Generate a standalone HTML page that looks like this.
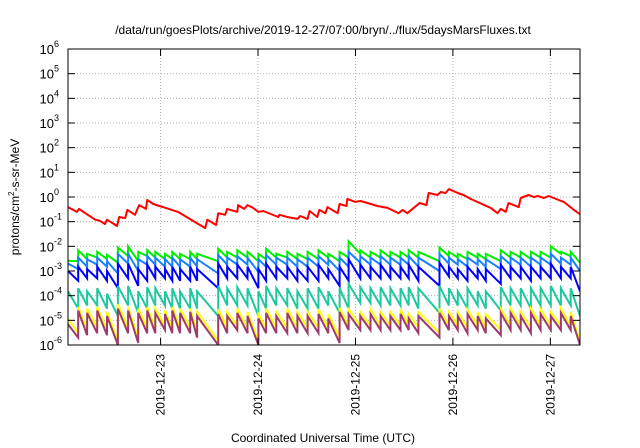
<!DOCTYPE html>
<html><head><meta charset="utf-8"><style>
html,body{margin:0;padding:0;background:#fff;}
svg{display:block;font-family:"Liberation Sans",sans-serif;}
</style></head><body>
<svg id="chart" width="640" height="448" viewBox="0 0 640 448">
<text x="323" y="34" font-size="12" text-anchor="middle">/data/run/goesPlots/archive/2019-12-27/07:00/bryn/../flux/5daysMarsFluxes.txt</text>
<defs><clipPath id="pc"><rect x="68" y="49" width="512" height="296"/></clipPath></defs>
<g id="grid"></g>
<g id="series" clip-path="url(#pc)"></g>
<rect x="68" y="49" width="512" height="296" fill="none" stroke="#000" stroke-width="1"/>
<g id="axes"></g>
<text transform="translate(19,197) rotate(-90)" font-size="12" text-anchor="middle">protons/cm<tspan font-size="8" dy="-5">2</tspan><tspan dy="5">-s-sr-MeV</tspan></text>
<text x="323" y="442" font-size="12" text-anchor="middle">Coordinated Universal Time (UTC)</text>
</svg>
<script>
// time in hours since 2019-12-22 00:00 UTC
const redT=[1.2,3.4,3.9,7.9,9.1,10.3,10.8,13.3,13.8,15.3,15.8,17.7,18.7,20.4,20.7,22.2,23.7,24.6,28.3,35.0,35.5,37.7,38.2,39.9,40.4,42.9,43.1,44.6,45.4,46.8,48.1,49.3,53.0,53.3,55.2,57.7,58.4,60.2,60.7,62.6,63.1,64.6,65.1,67.6,68.1,69.8,70.0,72.0,73.2,75.0,77.4,79.9,82.6,83.6,84.8,87.8,89.5,90.0,92.2,93.0,94.2,95.0,97.2,98.6,100.4,105.3,107.0,107.8,109.0,109.7,112.2,112.7,114.7,115.9,116.9,118.4,119.6,120.8,123.3,125.8,127.3];
const redV=[0.39,0.25,0.33,0.12,0.107,0.08,0.12,0.067,0.155,0.14,0.30,0.19,0.47,0.33,0.76,0.52,0.43,0.39,0.25,0.055,0.12,0.073,0.22,0.19,0.33,0.25,0.47,0.33,0.47,0.36,0.25,0.27,0.155,0.19,0.155,0.13,0.17,0.13,0.27,0.155,0.30,0.22,0.39,0.22,0.52,0.43,0.83,0.63,0.69,0.57,0.43,0.36,0.22,0.30,0.22,0.57,0.47,1.45,1.2,1.6,1.45,2.1,1.45,1.2,0.83,0.36,0.22,0.33,0.25,0.57,0.39,0.91,1.2,1.0,1.1,0.91,1.1,0.91,0.63,0.30,0.20];
const toothT=[1.2,3.7,5.9,8.4,10.8,13.5,16.0,18.5,20.7,22.7,25.1,26.9,28.8,31.3,33.0,38.2,40.4,42.9,45.4,48.1,50.0,52.5,55.2,57.7,60.2,62.9,65.3,68.1,70.3,73.2,75.7,78.2,80.6,83.1,85.1,87.5,92.7,95.0,97.2,99.6,102.1,104.1,107.8,110.2,112.7,115.2,117.6,120.1,122.6,125.0];
const endT=127.3;
const greenPeak=[2.6e-3,7e-3,5e-3,6e-3,4.5e-3,9e-3,1e-2,6e-3,7e-3,6e-3,5e-3,6e-3,5e-3,6e-3,5e-3,8e-3,6e-3,7e-3,6e-3,5e-3,8e-3,5e-3,6e-3,5e-3,6e-3,7e-3,5e-3,6e-3,1.6e-2,7e-3,6e-3,7e-3,6e-3,6e-3,7e-3,6e-3,9e-3,6e-3,5e-3,6e-3,5e-3,5e-3,7e-3,6e-3,6e-3,6e-3,6e-3,1e-2,6e-3,6e-3];
const greenTrough=[2.5e-3,3e-3,3.5e-3,3e-3,2.2e-3,4e-3,2.5e-3,4e-3,3.5e-3,3e-3,3e-3,3e-3,3e-3,3e-3,2.5e-3,3.5e-3,3.5e-3,3.5e-3,2.5e-3,3e-3,3.5e-3,3.5e-3,3e-3,3e-3,3e-3,3.5e-3,2.5e-3,3.5e-3,5e-3,3.5e-3,3.5e-3,3.5e-3,3.5e-3,3.5e-3,3.5e-3,2.5e-3,4e-3,3.5e-3,3e-3,3.5e-3,3e-3,2.5e-3,3.5e-3,3.5e-3,3e-3,3.5e-3,3.5e-3,5e-3,4e-3,2.2e-3];
const lblPeak=[2e-3,3.5e-3,3e-3,3.5e-3,2.5e-3,5e-3,5e-3,3e-3,4e-3,3.5e-3,3e-3,3.5e-3,3e-3,3.5e-3,3e-3,4.5e-3,3.5e-3,4e-3,3.5e-3,3e-3,4.5e-3,3.5e-3,3.5e-3,3e-3,3.5e-3,4e-3,3e-3,3.5e-3,6e-3,4e-3,3.5e-3,4e-3,3.5e-3,3.5e-3,4e-3,3.5e-3,5e-3,3.5e-3,3e-3,3.5e-3,3e-3,3e-3,4e-3,3.5e-3,3.5e-3,3.5e-3,3.5e-3,5e-3,3.5e-3,3.5e-3];
const lblTrough=[1.2e-3,1.5e-3,1.8e-3,1.5e-3,8e-4,2e-3,1e-3,1.8e-3,1.8e-3,1.5e-3,1.5e-3,1.5e-3,1.5e-3,1.5e-3,8e-4,1.8e-3,1.8e-3,1.8e-3,9e-4,1.5e-3,1.8e-3,1.8e-3,1.5e-3,1.5e-3,1.5e-3,1.8e-3,1e-3,1.5e-3,2.2e-3,1.8e-3,1.8e-3,1.8e-3,1.8e-3,1.8e-3,1.5e-3,1e-3,2e-3,1.8e-3,1.5e-3,1.8e-3,1.5e-3,1.2e-3,1.8e-3,1.8e-3,1.5e-3,1.8e-3,1.8e-3,2e-3,1.8e-3,1e-3];
const bluePeak=[1e-3,1.5e-3,1.2e-3,1.5e-3,1e-3,2e-3,2e-3,1.2e-3,1.8e-3,1.5e-3,1.2e-3,1.5e-3,1.2e-3,1.5e-3,1.2e-3,2e-3,1.5e-3,1.8e-3,1.5e-3,1.2e-3,2e-3,1.5e-3,1.5e-3,1.2e-3,1.5e-3,1.8e-3,1.2e-3,1.5e-3,3e-3,1.8e-3,1.5e-3,1.8e-3,1.5e-3,1.5e-3,1.8e-3,1.5e-3,2.2e-3,1.5e-3,1.2e-3,1.5e-3,1.2e-3,1.2e-3,1.8e-3,1.5e-3,1.5e-3,1.5e-3,1.5e-3,2e-3,1.5e-3,1.5e-3];
const blueTrough=[4e-4,5e-4,5e-4,4e-4,2e-4,5e-4,2.5e-4,4e-4,5e-4,5e-4,4e-4,4e-4,4e-4,4e-4,2e-4,5e-4,5e-4,5e-4,2e-4,4e-4,5e-4,5e-4,4e-4,4e-4,4e-4,5e-4,2.5e-4,4e-4,5e-4,5e-4,5e-4,5e-4,5e-4,5e-4,4e-4,2.5e-4,6e-4,5e-4,4e-4,5e-4,4e-4,3e-4,5e-4,5e-4,4e-4,5e-4,5e-4,5e-4,5e-4,1.5e-4];
const tealPeak=[1.5e-4,2e-4,1.5e-4,2e-4,1.2e-4,2.5e-4,2.5e-4,1.5e-4,2.2e-4,2e-4,1.5e-4,2e-4,1.5e-4,2e-4,1.5e-4,2.5e-4,2e-4,2.2e-4,2e-4,1.5e-4,2.5e-4,2e-4,2e-4,1.5e-4,2e-4,2.2e-4,1.5e-4,2e-4,3e-4,2.2e-4,2e-4,2.2e-4,2e-4,2e-4,2.2e-4,2e-4,2.5e-4,2e-4,1.5e-4,2e-4,1.5e-4,1.5e-4,2.2e-4,2e-4,2e-4,2e-4,2e-4,2.5e-4,2e-4,2e-4];
const tealTrough=[3e-5,4e-5,4e-5,3e-5,1.5e-5,4e-5,2e-5,3e-5,4e-5,4e-5,3e-5,3e-5,3e-5,3e-5,1.5e-5,4e-5,4e-5,4e-5,1.5e-5,3e-5,4e-5,4e-5,3e-5,3e-5,3e-5,4e-5,2e-5,3e-5,5e-5,5e-5,4e-5,4e-5,4e-5,4e-5,3e-5,2e-5,4e-5,4e-5,3e-5,4e-5,3e-5,2.5e-5,4e-5,4e-5,3e-5,4e-5,4e-5,4e-5,4e-5,1.5e-5];
const yellowPeak=[1.2e-5,3.5e-5,3e-5,3.5e-5,2.2e-5,4.5e-5,3.5e-5,3e-5,3.5e-5,3e-5,2.5e-5,3.5e-5,3e-5,3e-5,2.2e-5,2.8e-5,2.2e-5,3e-5,2.2e-5,1.8e-5,3e-5,2.2e-5,3e-5,2.2e-5,2.2e-5,2.8e-5,1.8e-5,3.2e-5,2.8e-5,2.2e-5,2.8e-5,2.2e-5,2.2e-5,2.8e-5,1.8e-5,2.2e-5,3e-5,2.2e-5,2.2e-5,2.8e-5,2.2e-5,1.8e-5,3e-5,3e-5,2.2e-5,3e-5,2.8e-5,2.2e-5,3e-5,2.2e-5];
const yellowTrough=[3e-6,4e-6,5e-6,4e-6,1.5e-6,5e-6,2e-6,5e-6,5e-6,6e-6,5e-6,5e-6,5e-6,3e-6,1.5e-6,5e-6,6e-6,5e-6,1.5e-6,5e-6,5e-6,5e-6,5e-6,5e-6,5e-6,5e-6,2e-6,6e-6,6e-6,6e-6,6e-6,6e-6,6e-6,6e-6,5e-6,3e-6,6e-6,6e-6,5e-6,6e-6,5e-6,4e-6,6e-6,6e-6,5e-6,6e-6,6e-6,6e-6,6e-6,1.5e-6];
const purplePeak=[7e-6,2.5e-5,2e-5,2.5e-5,1.5e-5,3e-5,2.5e-5,2e-5,2.5e-5,2e-5,1.8e-5,2.5e-5,2e-5,2.2e-5,1.5e-5,1.8e-5,1.5e-5,2e-5,1.5e-5,1.2e-5,2e-5,1.5e-5,2e-5,1.5e-5,1.5e-5,1.8e-5,1.2e-5,2.2e-5,1.8e-5,1.5e-5,1.8e-5,1.5e-5,1.5e-5,1.8e-5,1.2e-5,1.5e-5,2e-5,1.5e-5,1.5e-5,1.8e-5,1.5e-5,1.2e-5,2e-5,2e-5,1.5e-5,2e-5,1.8e-5,1.5e-5,2e-5,1.5e-5];
const purpleTrough=[2e-6,2.5e-6,3e-6,2.5e-6,1e-6,3e-6,1.2e-6,3e-6,3e-6,4e-6,3e-6,3e-6,3e-6,2e-6,1e-6,3e-6,4e-6,3e-6,1e-6,3e-6,3e-6,3e-6,3e-6,3e-6,3e-6,3e-6,1.2e-6,4e-6,4e-6,4e-6,4e-6,4e-6,4e-6,4e-6,3e-6,2e-6,4e-6,4e-6,3e-6,4e-6,3e-6,2.5e-6,4e-6,4e-6,3e-6,4e-6,4e-6,4e-6,4e-6,1e-6];
const dayTicks=[24,48,72,96,120];
const dayLabels=["2019-12-23","2019-12-24","2019-12-25","2019-12-26","2019-12-27"];
const yExps=[-6,-5,-4,-3,-2,-1,0,1,2,3,4,5,6];

const X0=68,X1=580,Y0=345,Y1=49,T0=1.2,T1=127.3;
const xs=t=>X0+(t-T0)/(T1-T0)*(X1-X0);
const ys=v=>Y0-(Math.log10(v)+6)/12*(Y0-Y1);
const NS="http://www.w3.org/2000/svg";
const grid=document.getElementById('grid'),axes=document.getElementById('axes'),ser=document.getElementById('series');
function mk(tag,attrs,parent){const e=document.createElementNS(NS,tag);for(const k in attrs)e.setAttribute(k,attrs[k]);parent.appendChild(e);return e;}
yExps.forEach(e=>{
  const y=ys(Math.pow(10,e));
  if(e>-6&&e<6){const g=mk('line',{x1:X0,x2:X1,y1:y,y2:y,stroke:'#b0b0b0','stroke-width':1,'stroke-dasharray':'1,2'},grid);
  
  }
  const tl=mk('line',{x1:X0,x2:X0+7,y1:y,y2:y,stroke:'#000'},axes);
  
  
  const tr=mk('line',{x1:X1-7,x2:X1,y1:y,y2:y,stroke:'#000'},axes);
  
  
  const t=mk('text',{x:X0-14,y:y+5,'font-size':13,'text-anchor':'end'},axes);
  
  
  t.textContent='10';
  const s=mk('text',{x:X0-14,y:y-2,'font-size':9,'text-anchor':'start'},axes);
  
  
  s.textContent=String(e);
});
dayTicks.forEach((d,i)=>{
  const x=xs(d);
  const g=mk('line',{x1:x,x2:x,y1:Y1,y2:Y0,stroke:'#b0b0b0','stroke-width':1,'stroke-dasharray':'1,2'},grid);
  
  
  const tb=mk('line',{x1:x,x2:x,y1:Y0-7,y2:Y0,stroke:'#000'},axes);
  
  
  const tt=mk('line',{x1:x,x2:x,y1:Y1,y2:Y1+7,stroke:'#000'},axes);
  
  
  const t=mk('text',{transform:`translate(${x+4},${Y0+9}) rotate(-90)`,'font-size':12,'text-anchor':'end'},axes);
  
  
  t.textContent=dayLabels[i];
});
function sawPts(peak,trough){
  const p=[];
  for(let i=0;i<toothT.length;i++){
    const tEnd=i+1<toothT.length?toothT[i+1]:endT;
    p.push(xs(toothT[i]).toFixed(1)+','+ys(peak[i]).toFixed(1));
    p.push(xs(tEnd).toFixed(1)+','+ys(trough[i]).toFixed(1));
  }
  return p.join(' ');
}
const redPts=redT.map((t,i)=>xs(t).toFixed(1)+','+ys(redV[i]).toFixed(1)).join(' ');
const r=mk('polyline',{points:redPts,fill:'none',stroke:'#ff0000','stroke-width':2,'stroke-linejoin':'round'},ser);


const g1=mk('polyline',{points:sawPts(greenPeak,greenTrough),fill:'none',stroke:'#00ee00','stroke-width':2},ser);


const g2=mk('polyline',{points:sawPts(lblPeak,lblTrough),fill:'none',stroke:'#1a80ff','stroke-width':2},ser);


const g3=mk('polyline',{points:sawPts(bluePeak,blueTrough),fill:'none',stroke:'#0000ff','stroke-width':2},ser);


const g4=mk('polyline',{points:sawPts(tealPeak,tealTrough),fill:'none',stroke:'#1ec89e','stroke-width':2},ser);


const g5=mk('polyline',{points:sawPts(yellowPeak,yellowTrough),fill:'none',stroke:'#ffff00','stroke-width':2},ser);


const g6=mk('polyline',{points:sawPts(purplePeak,purpleTrough),fill:'none',stroke:'#9e3b6e','stroke-width':2},ser);


</script>
</body></html>
